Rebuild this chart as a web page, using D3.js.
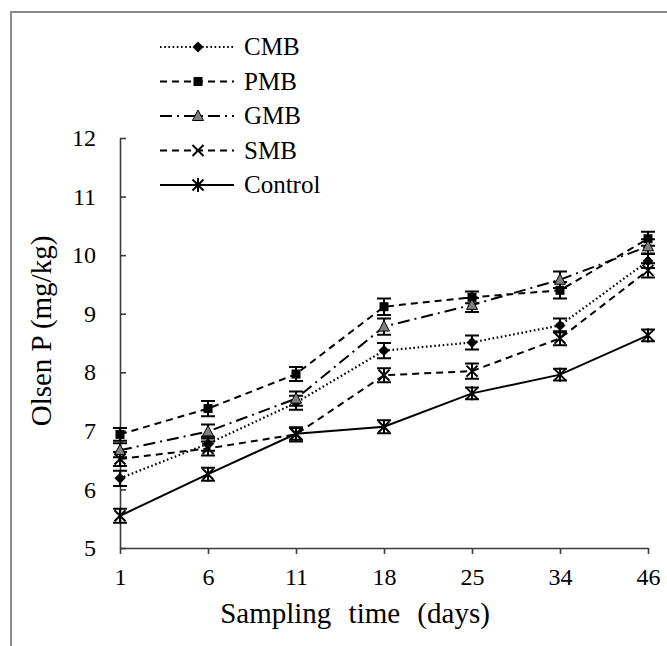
<!DOCTYPE html>
<html>
<head>
<meta charset="utf-8">
<script src="https://cdn.jsdelivr.net/npm/d3@7"></script>
<style>
  body { margin: 0; background: #fff; }
  svg text { font-family: "Liberation Serif", "Times New Roman", serif; fill: #000; }
</style>
</head>
<body>
<svg id="chart"></svg>
<script>
// data
const days = ['1', '6', '11', '18', '25', '34', '46'];
const yTicks = [5, 6, 7, 8, 9, 10, 11, 12];

const cmb     = [6.19, 6.78, 7.48, 8.37, 8.51, 8.80, 9.90];
const pmb     = [6.94, 7.38, 7.97, 9.12, 9.28, 9.40, 10.28];
const gmb     = [6.67, 6.99, 7.55, 8.78, 9.15, 9.58, 10.15];
const smb     = [6.52, 6.70, 6.94, 7.95, 8.02, 8.58, 9.74];
const control = [5.55, 6.26, 6.95, 7.07, 7.64, 7.96, 8.63];

const cmbErr     = [0.13, 0.12, 0.12, 0.13, 0.12, 0.12, 0.12];
const pmbErr     = [0.11, 0.13, 0.12, 0.14, 0.10, 0.14, 0.12];
const gmbErr     = [0.12, 0.12, 0.12, 0.14, 0.12, 0.14, 0.12];
const smbErr     = [0.12, 0.12, 0.12, 0.12, 0.13, 0.12, 0.12];
const controlErr = [0.12, 0.11, 0.10, 0.11, 0.10, 0.10, 0.10];

const seriesNames = ['CMB', 'PMB', 'GMB', 'SMB', 'Control'];

class OlsenChart {
  constructor(_config) {
    this.config = {
      parentElement: _config.parentElement,
      containerWidth: _config.containerWidth || 667,
      containerHeight: _config.containerHeight || 646,
      margin: _config.margin || {top: 138, right: 19, bottom: 98, left: 120}
    };
    this.initVis();
  }

  initVis() {
    let vis = this;
    vis.width = vis.config.containerWidth - vis.config.margin.left - vis.config.margin.right;
    vis.height = vis.config.containerHeight - vis.config.margin.top - vis.config.margin.bottom;

    // one entry per series, style kept here and not in the data arrays
    vis.series = [
      {name: seriesNames[0], values: cmb, errs: cmbErr, dash: '1.6,2.6', marker: 'diamond'},
      {name: seriesNames[1], values: pmb, errs: pmbErr, dash: '7,5', marker: 'square'},
      {name: seriesNames[2], values: gmb, errs: gmbErr, dash: '12,5,2,5', marker: 'triangle'},
      {name: seriesNames[3], values: smb, errs: smbErr, dash: '7,5', marker: 'cross'},
      {name: seriesNames[4], values: control, errs: controlErr, dash: null, marker: 'star'}
    ];

    vis.xScale = d3.scalePoint()
      .domain(days)
      .range([0, vis.width]);

    vis.yScale = d3.scaleLinear()
      .domain([5, 12])
      .range([vis.height, 0]);

    vis.xAxis = d3.axisBottom(vis.xScale)
      .tickSize(6)
      .tickSizeOuter(0)
      .tickPadding(14);

    vis.yAxis = d3.axisLeft(vis.yScale)
      .tickValues(yTicks)
      .tickFormat(d3.format('d'))
      .tickSize(-6)
      .tickSizeOuter(0)
      .tickPadding(24);

    vis.svg = d3.select(vis.config.parentElement)
      .attr('width', vis.config.containerWidth)
      .attr('height', vis.config.containerHeight);

    // grey frame round the figure
    vis.svg.append('rect')
      .attr('x', 11)
      .attr('y', 12)
      .attr('width', 700)
      .attr('height', 700)
      .attr('fill', 'none')
      .attr('stroke', '#8a8a8a')
      .attr('stroke-width', 2);

    vis.chart = vis.svg.append('g')
      .attr('transform', `translate(${vis.config.margin.left},${vis.config.margin.top})`);

    vis.xAxisG = vis.chart.append('g')
      .attr('class', 'axis x-axis')
      .attr('transform', `translate(0,${vis.height})`);

    vis.yAxisG = vis.chart.append('g')
      .attr('class', 'axis y-axis');

    vis.marks = vis.chart.append('g');

    //axes titles
    vis.chart.append('text')
      .attr('text-anchor', 'middle')
      .attr('x', 355 - vis.config.margin.left)
      .attr('y', vis.height + 75)
      .attr('font-size', '29px')
      .attr('word-spacing', '10px')
      .text('Sampling time (days)');

    vis.chart.append('text')
      .attr('text-anchor', 'middle')
      .attr('transform', 'rotate(-90)')
      .attr('x', -vis.height / 2 + 12)
      .attr('y', -vis.config.margin.left + 51)
      .attr('font-size', '29px')
      .text('Olsen P (mg/kg)');

    vis.legend = vis.svg.append('g')
      .attr('transform', 'translate(160,47)');

    vis.renderVis();
  }

  drawMarker(sel, type) {
    if (type === 'diamond') {
      sel.append('path').attr('d', 'M0,-5.5L5.5,0L0,5.5L-5.5,0Z').attr('fill', '#000');
    } else if (type === 'square') {
      sel.append('rect').attr('x', -4.5).attr('y', -4.5).attr('width', 9).attr('height', 9).attr('fill', '#000');
    } else if (type === 'triangle') {
      sel.append('path').attr('d', 'M0,-6L5.5,4.5L-5.5,4.5Z')
        .attr('fill', '#7f7f7f').attr('stroke', '#000').attr('stroke-width', 1);
    } else if (type === 'cross') {
      sel.append('path').attr('d', 'M-5.5,-5.5L5.5,5.5M-5.5,5.5L5.5,-5.5')
        .attr('stroke', '#000').attr('stroke-width', 2);
    } else {
      sel.append('path').attr('d', 'M-5.5,-5.5L5.5,5.5M-5.5,5.5L5.5,-5.5M0,-7L0,7')
        .attr('stroke', '#000').attr('stroke-width', 2);
    }
  }

  renderVis() {
    let vis = this;

    vis.xAxisG.call(vis.xAxis);
    vis.yAxisG.call(vis.yAxis);

    vis.chart.selectAll('.axis path, .axis line')
      .attr('stroke', '#3a3a3a')
      .attr('stroke-width', 1.6);
    vis.chart.selectAll('.axis text')
      .attr('font-size', '24px')
      .attr('font-family', '"Liberation Serif", "Times New Roman", serif');

    const line = d3.line()
      .x((d, i) => vis.xScale(days[i]))
      .y(d => vis.yScale(d));

    // lines
    vis.marks.selectAll('.series-line')
      .data(vis.series)
      .join('path')
        .attr('class', 'series-line')
        .attr('d', d => line(d.values))
        .attr('fill', 'none')
        .attr('stroke', '#000')
        .attr('stroke-width', d => d.marker === 'diamond' ? 2.2 : 2)
        .attr('stroke-dasharray', d => d.dash);

    // error bars
    vis.series.forEach(s => {
      const g = vis.marks.append('g');
      s.values.forEach((v, i) => {
        const x = vis.xScale(days[i]);
        const y0 = vis.yScale(v - s.errs[i]);
        const y1 = vis.yScale(v + s.errs[i]);
        g.append('path')
          .attr('d', `M${x},${y0}L${x},${y1}M${x - 7},${y0}L${x + 7},${y0}M${x - 7},${y1}L${x + 7},${y1}`)
          .attr('fill', 'none')
          .attr('stroke', '#000')
          .attr('stroke-width', 2);
      });
    });

    // markers
    vis.series.forEach(s => {
      s.values.forEach((v, i) => {
        const m = vis.marks.append('g')
          .attr('transform', `translate(${vis.xScale(days[i])},${vis.yScale(v)})`);
        vis.drawMarker(m, s.marker);
      });
    });

    // legend
    const rowH = 34.5;
    vis.series.forEach((s, i) => {
      const row = vis.legend.append('g').attr('transform', `translate(0,${i * rowH})`);
      row.append('line')
        .attr('x1', 0).attr('x2', 74)
        .attr('stroke', '#000')
        .attr('stroke-width', s.marker === 'diamond' ? 2.2 : 2)
        .attr('stroke-dasharray', s.dash);
      vis.drawMarker(row.append('g').attr('transform', 'translate(38,0)'), s.marker);
      row.append('text')
        .attr('x', 84)
        .attr('y', 8)
        .attr('font-size', '25px')
        .text(s.name);
    });
  }
}

new OlsenChart({parentElement: '#chart'});
</script>
</body>
</html>
